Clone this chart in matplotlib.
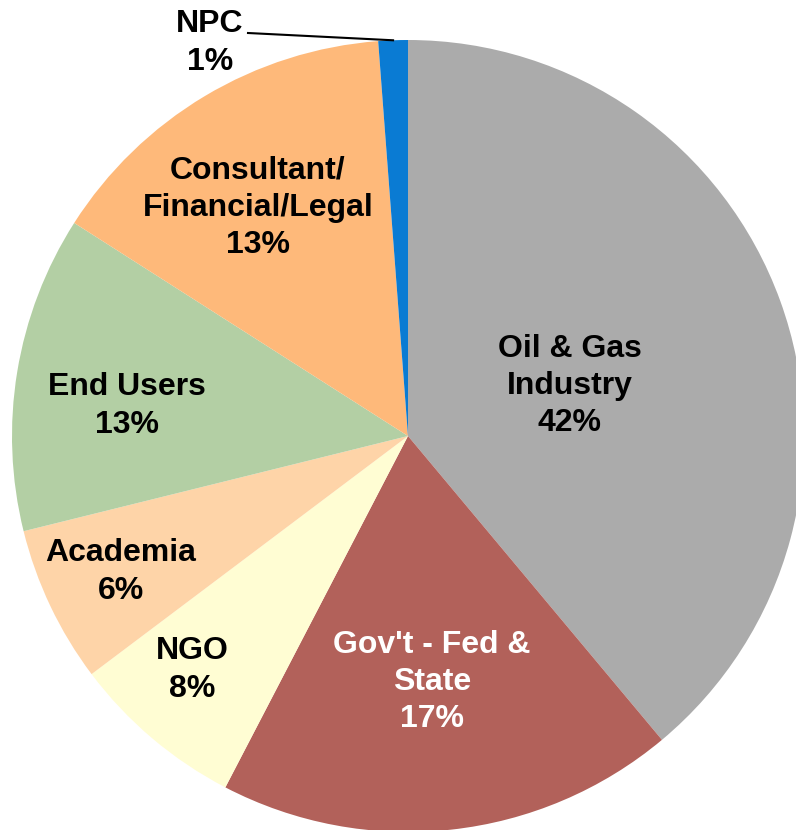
import numpy as np
import matplotlib
matplotlib.use("Agg")
import matplotlib.pyplot as plt

# shares, labels as printed on the chart
categories = ["Oil & Gas\nIndustry", "Gov't - Fed &\nState", "NGO", "Academia",
              "End Users", "Consultant/\nFinancial/Legal", "NPC"]
shares = [38.9, 18.7, 7.1, 6.4, 12.9, 14.75, 1.2]
pct_labels = ["42%", "17%", "8%", "6%", "13%", "13%", "1%"]
colors = ["#ABABAB", "#B2615A", "#FFFDD3", "#FED4A8", "#B3CFA4", "#FEB97A", "#0A7BD3"]

W, H = 796, 830
fig = plt.figure(figsize=(W / 100, H / 100), dpi=100)
ax = fig.add_axes([0, 0, 1, 1])

cx, cy, r = 408, H - 436, 396
wedges, _ = ax.pie(shares, colors=colors, startangle=90, counterclock=False,
                   center=(cx, cy), radius=r, wedgeprops=dict(linewidth=0))
ax.set_xlim(0, W)
ax.set_ylim(0, H)
ax.set_aspect("equal")
ax.axis("off")

# label centres in pixel space (from top-left)
label_pos = [(570, 386), (432, 682), (192, 670), (121, 572), (127, 406), (258, 208), (210, 43)]
text_col = ["black", "white", "black", "black", "black", "black", "black"]

for name, pct, (x, y), c in zip(categories, pct_labels, label_pos, text_col):
    ax.text(x, H - y, name + "\n" + pct, ha="center", va="center", color=c,
            fontsize=23, fontweight="bold", family="Liberation Sans", linespacing=1.32)

# leader line for the small NPC slice
w = wedges[-1]
mid = np.deg2rad((w.theta1 + w.theta2) / 2)
ax.plot([248, cx + r * np.cos(mid)], [H - 33, cy + r * np.sin(mid)], color="black", lw=1.5)

fig.savefig("out.png", dpi=100)
